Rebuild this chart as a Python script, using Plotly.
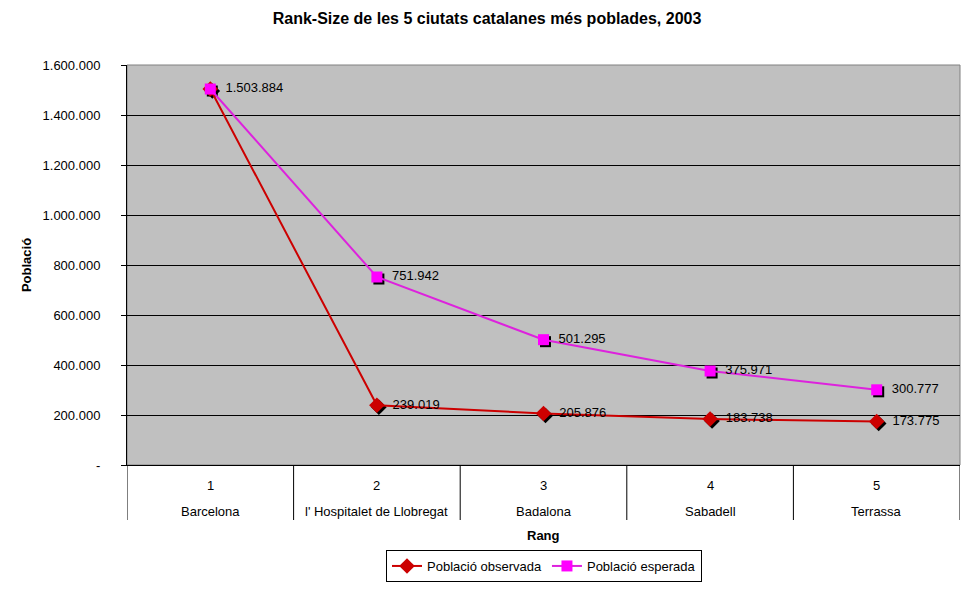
import plotly.graph_objects as go

RANKS = [1, 2, 3, 4, 5]
CITIES = ["Barcelona", "l' Hospitalet de Llobregat", "Badalona", "Sabadell", "Terrassa"]
OBSERVED = [1503884, 239019, 205876, 183738, 173775]
EXPECTED = [1503884, 751942, 501295, 375971, 300777]

Y_TICKS = [0, 200000, 400000, 600000, 800000, 1000000, 1200000, 1400000, 1600000]


def fmt(v):
    return "-" if v == 0 else f"{v:,}".replace(",", ".")


def label(v):
    return "  " + fmt(v)


FONT = "Liberation Sans, Arial, sans-serif"
PLOT_H = 400

fig = go.Figure()

# black drop shadows behind the markers (offset a couple of pixels)
dx = 5 / 833 * 2
dy = 1600000 / PLOT_H * 2
for vals, sym, size in [(OBSERVED, "diamond", 12), (EXPECTED, "square", 11)]:
    fig.add_trace(go.Scatter(
        x=[r + dx for r in RANKS], y=[v - dy for v in vals],
        mode="markers", marker=dict(symbol=sym, size=size, color="black"),
        showlegend=False, hoverinfo="skip",
    ))

fig.add_trace(go.Scatter(
    x=RANKS, y=OBSERVED, mode="lines+markers+text",
    name="Població observada",
    line=dict(color="#cc0000", width=2),
    marker=dict(symbol="diamond", size=12, color="#cc0000"),
    text=[""] + [label(v) for v in OBSERVED[1:]], textposition="middle right",
    textfont=dict(family=FONT, size=13, color="black"),
))
fig.add_trace(go.Scatter(
    x=RANKS, y=EXPECTED, mode="lines+markers+text",
    name="Població esperada",
    line=dict(color="#dd22dd", width=2),
    marker=dict(symbol="square", size=11, color="#ff00ff"),
    text=[label(v) for v in EXPECTED], textposition="middle right",
    textfont=dict(family=FONT, size=13, color="black"),
))

# category table under the plot
table_bottom = -55 / PLOT_H
for i in range(len(RANKS) + 1):
    fig.add_shape(type="line", xref="x", yref="paper",
                  x0=0.5 + i, x1=0.5 + i, y0=0, y1=table_bottom,
                  line=dict(color="black", width=1))
for r, c in zip(RANKS, CITIES):
    fig.add_annotation(x=r, y=-20 / PLOT_H, xref="x", yref="paper", text=str(r),
                       yanchor="middle", showarrow=False,
                       font=dict(family=FONT, size=13, color="black"))
    fig.add_annotation(x=r, y=-46 / PLOT_H, xref="x", yref="paper", text=c,
                       yanchor="middle", showarrow=False,
                       font=dict(family=FONT, size=13, color="black"))
fig.add_annotation(x=0.5, y=-70 / PLOT_H, xref="paper", yref="paper", text="<b>Rang</b>",
                   yanchor="middle", showarrow=False,
                   font=dict(family=FONT, size=13, color="black"))

fig.add_shape(type="rect", xref="paper", yref="paper", x0=0, x1=1, y0=0, y1=1,
              line=dict(color="#808080", width=1), layer="below")

# page body has an 8px margin, so the figure is drawn slightly smaller
fig.update_layout(
    width=958, height=575,
    margin=dict(l=119, r=6, t=57, b=118, autoexpand=False),
    paper_bgcolor="white", plot_bgcolor="#c0c0c0",
    font=dict(family=FONT, size=13, color="black"),
    title=dict(text="<b>Rank-Size de les 5 ciutats catalanes més poblades, 2003</b>",
               x=(487 - 8) / 958, xanchor="center", y=1 - 10 / 575, yanchor="middle",
               font=dict(family=FONT, size=16, color="black")),
    xaxis=dict(range=[0.5, 5.5], showticklabels=False, showgrid=False,
               zeroline=False, showline=True, linecolor="black", ticks=""),
    yaxis=dict(range=[0, 1600000], tickvals=Y_TICKS, ticktext=[fmt(v) for v in Y_TICKS],
               showgrid=True, gridcolor="black", gridwidth=1, zeroline=False,
               showline=True, linecolor="black", ticks="outside", ticklen=5,
               tickcolor="black", ticklabelstandoff=18,
               title=dict(text="<b>Població</b>", standoff=8,
                          font=dict(family=FONT, size=13))),
    legend=dict(orientation="h", x=(544 - 127) / 833, xanchor="center",
                y=-101 / PLOT_H, yanchor="middle",
                bordercolor="black", borderwidth=1, bgcolor="white",
                font=dict(family=FONT, size=13)),
    showlegend=True,
)

fig.write_html("out.html")
